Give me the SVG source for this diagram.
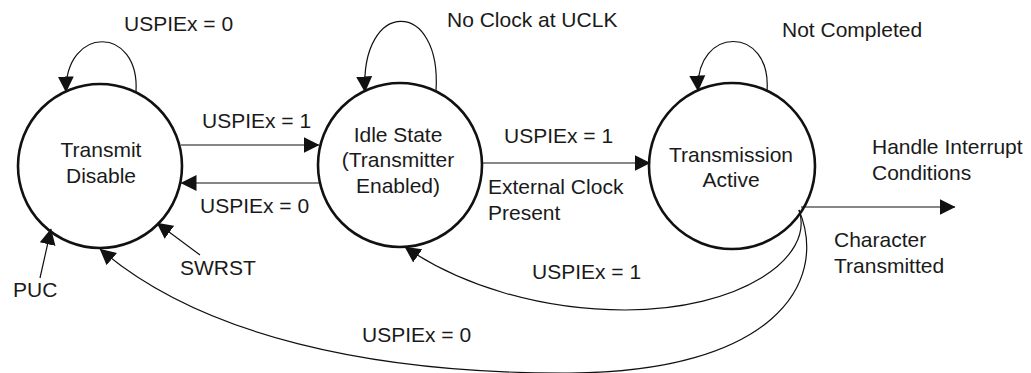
<svg xmlns="http://www.w3.org/2000/svg" width="1031" height="373" viewBox="0 0 1031 373">
<style>
.node{fill:none;stroke:#111;stroke-width:2.6}
.edge{fill:none;stroke:#111;stroke-width:1.2}
text{font-family:"Liberation Sans",Arial,sans-serif;font-size:21px;fill:#1a1a1a}
.c{text-anchor:middle}
</style>
<defs>
<marker id="ah" markerUnits="userSpaceOnUse" markerWidth="16" markerHeight="17" viewBox="0 0 16 17" refX="15.5" refY="8.5" orient="auto">
<path d="M0,0.5 L16,8.5 L0,16.5 z" fill="#111"/>
</marker>
</defs>
<rect width="1031" height="373" fill="#fff"/>
<g id="n-disable">
<circle class="node" cx="100" cy="166" r="82"/>
<text class="c" x="101" y="157">Transmit</text>
<text class="c" x="101" y="183">Disable</text>
</g>
<g id="n-idle">
<circle class="node" cx="400" cy="165" r="82"/>
<text class="c" x="398" y="142">Idle State</text>
<text class="c" x="398" y="167">(Transmitter</text>
<text class="c" x="398" y="193">Enabled)</text>
</g>
<g id="n-active">
<circle class="node" cx="732" cy="166" r="83"/>
<text class="c" x="731" y="162">Transmission</text>
<text class="c" x="731" y="187">Active</text>
</g>
<g id="connectors">
<path class="edge" marker-end="url(#ah)" d="M136,92 C140,25 65,25 66,92"/>
<path class="edge" marker-end="url(#ah)" d="M436,91 C442,-2 360,-2 365,92"/>
<path class="edge" marker-end="url(#ah)" d="M767,91 C772,25 695,25 698,91"/>
<path class="edge" marker-end="url(#ah)" d="M181,145 L319,145"/>
<path class="edge" marker-end="url(#ah)" d="M319,183 L181,183"/>
<path class="edge" marker-end="url(#ah)" d="M482,163 L650,163"/>
<path class="edge" marker-end="url(#ah)" d="M801,207 L955,207"/>
<path class="edge" marker-end="url(#ah)" d="M799,210 C815,258 740,310 625,310 C540,310 460,285 405,247"/>
<path class="edge" marker-end="url(#ah)" d="M799,210 C830,285 770,372 570,373 C370,374 200,335 100,249"/>
<path class="edge" marker-end="url(#ah)" d="M40,278 L51,229"/>
<path class="edge" marker-end="url(#ah)" d="M200,255 L157,223"/>
</g>
<g id="labels">
<text x="124" y="31">USPIEx = 0</text>
<text x="202" y="128">USPIEx = 1</text>
<text x="200" y="213">USPIEx = 0</text>
<text x="447" y="27">No Clock at UCLK</text>
<text x="504" y="143">USPIEx = 1</text>
<text x="488" y="194">External Clock</text>
<text x="488" y="220">Present</text>
<text x="782" y="37">Not Completed</text>
<text x="872" y="154">Handle Interrupt</text>
<text x="872" y="180">Conditions</text>
<text x="834" y="247">Character</text>
<text x="834" y="273">Transmitted</text>
<text x="532" y="279">USPIEx = 1</text>
<text x="362" y="342">USPIEx = 0</text>
<text x="13" y="297">PUC</text>
<text x="180" y="275">SWRST</text>
</g>
</svg>
